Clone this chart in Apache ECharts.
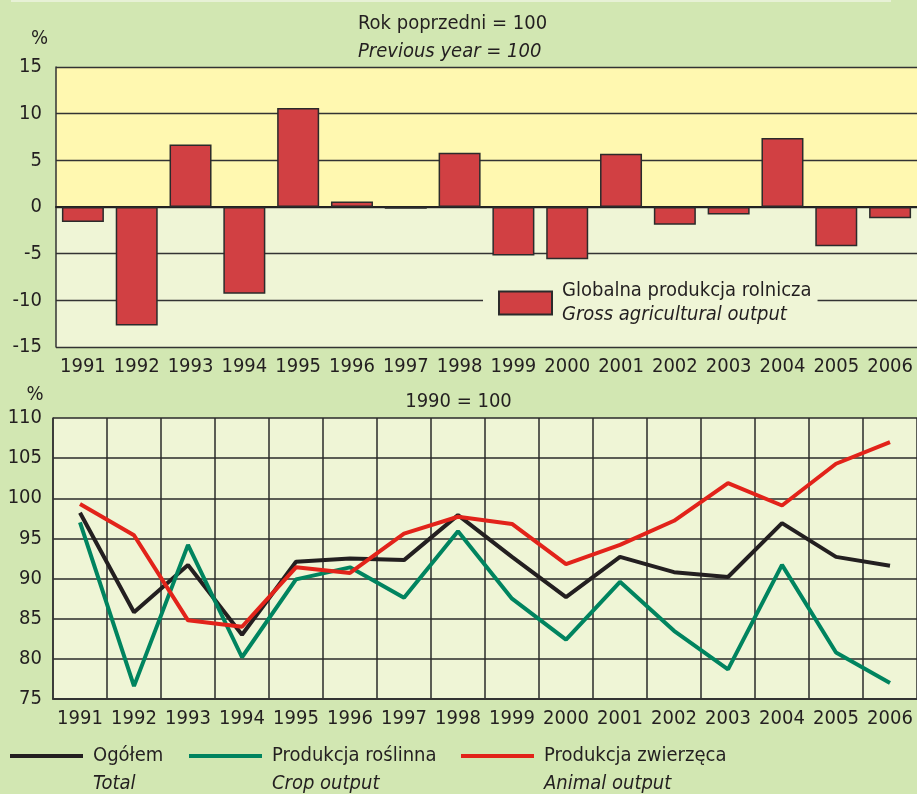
<!DOCTYPE html>
<html lang="pl">
<head>
<meta charset="UTF-8">
<title>Produkcja rolnicza</title>
<script src="https://cdn.jsdelivr.net/npm/echarts@6/dist/echarts.min.js"></script>
<style>
    html, body {margin: 0; padding: 0; background: #D2E7B2;}
    #chart {width: 917px; height: 794px;}
</style>
</head>
<body>
<div id="chart"></div>
<script>
    // dane
    var years = ['1991', '1992', '1993', '1994', '1995', '1996', '1997', '1998',
                 '1999', '2000', '2001', '2002', '2003', '2004', '2005', '2006'];
    // rok poprzedni = 100
    var grossOutput = [-1.6, -12.7, 6.7, -9.3, 10.6, 0.6, -0.2, 5.8, -5.2, -5.6, 5.7, -1.9, -0.8, 7.4, -4.2, -1.2];
    // 1990 = 100
    var totalIdx  = [98.2, 85.8, 91.7, 83.0, 92.1, 92.5, 92.3, 97.9, 92.7, 87.7, 92.7, 90.8, 90.2, 96.9, 92.7, 91.6];
    var cropIdx   = [97.0, 76.6, 94.2, 80.2, 89.9, 91.4, 87.6, 95.9, 87.5, 82.4, 89.6, 83.5, 78.7, 91.7, 80.8, 77.0];
    var animalIdx = [99.3, 95.4, 84.8, 84.0, 91.4, 90.7, 95.6, 97.7, 96.8, 91.8, 94.2, 97.2, 101.9, 99.1, 104.3, 107.0];
    var topAxis = {min: -15, max: 15, step: 5};
    var bottomAxis = {min: 75, max: 110, step: 5};

    var names = {
        gross: ['Globalna produkcja rolnicza', 'Gross agricultural output'],
        total: ['Ogółem', 'Total'],
        crop: ['Produkcja roślinna', 'Crop output'],
        animal: ['Produkcja zwierzęca', 'Animal output']
    };

    var font = "'Liberation Sans Narrow', 'Arial Narrow', 'DejaVu Sans Condensed', sans-serif";
    var fs = 20;
    var ink = '#231F20';
    var yellow = '#FFF8B0';
    var pale = '#EFF5D6';

    function legendFmt(key, pad) {
        return function () {
            return (pad ? '\n' : '') + '{a|' + names[key][0] + '}\n{b|' + names[key][1] + '}';
        };
    }
    function legendRich(lh) {
        return {
            a: {fontFamily: font, fontSize: fs, color: ink, lineHeight: lh, padding: [0, 0, 0, 5]},
            b: {fontFamily: font, fontSize: fs, color: ink, fontStyle: 'italic', lineHeight: lh, padding: [0, 0, 0, 5]}
        };
    }
    function lineLegend(key, left) {
        return {
            left: left, top: 714, padding: 0,
            icon: 'rect', itemWidth: 73, itemHeight: 4,
            data: [names[key][0]],
            formatter: legendFmt(key, true),
            textStyle: {lineHeight: 28, rich: legendRich(28)},
            selectedMode: false
        };
    }

    var myChart = echarts.init(document.getElementById('chart'));
    var option = {
        backgroundColor: '#D2E7B2',
        animation: false,
        textStyle: {fontFamily: font},
        graphic: [{
            type: 'rect', shape: {x: 11, y: 0, width: 880, height: 2},
            style: {fill: '#E7F1D6'}
        }],
        title: [{
            text: 'Rok poprzedni = 100',
            subtext: 'Previous year = 100',
            left: 358, top: 14, itemGap: 8, padding: 0,
            textStyle: {fontFamily: font, fontSize: fs, fontWeight: 'normal', color: ink},
            subtextStyle: {fontFamily: font, fontSize: fs, fontStyle: 'italic', color: ink}
        }, {
            text: '1990 = 100',
            left: 'center', top: 392, padding: 0,
            textStyle: {fontFamily: font, fontSize: fs, fontWeight: 'normal', color: ink}
        }],
        legend: [{
            left: 483, top: 276,
            padding: [5, 6, 5, 15],
            backgroundColor: pale,
            icon: 'rect', itemWidth: 53, itemHeight: 23,
            data: [names.gross[0]],
            formatter: legendFmt('gross', false),
            textStyle: {rich: legendRich(24)},
            selectedMode: false
        },
            lineLegend('total', 10),
            lineLegend('crop', 189),
            lineLegend('animal', 461)
        ],
        grid: [
            {left: 56, right: 0, top: 67, height: 280},
            {left: 53, right: 0, top: 418, height: 281, show: true, backgroundColor: pale, borderWidth: 0}
        ],
        xAxis: [{
            gridIndex: 0, type: 'category', data: years,
            axisTick: {show: false},
            axisLine: {lineStyle: {color: '#222', width: 2}},
            axisLabel: {margin: 10, fontSize: fs, color: ink, fontFamily: font, interval: 0}
        }, {
            gridIndex: 1, type: 'category', data: years,
            axisTick: {show: false},
            axisLine: {lineStyle: {color: '#333', width: 2}},
            axisLabel: {margin: 10, fontSize: fs, color: ink, fontFamily: font, interval: 0},
            splitLine: {show: true, interval: 0, lineStyle: {color: '#2A2A2A', width: 1.5}}
        }],
        yAxis: [{
            gridIndex: 0, type: 'value',
            min: topAxis.min, max: topAxis.max, interval: topAxis.step,
            name: '%', nameLocation: 'end', nameGap: 18,
            nameTextStyle: {fontSize: fs, color: ink, fontFamily: font, padding: [0, 33, 0, 0]},
            axisLine: {show: true, lineStyle: {color: '#333', width: 1.5}},
            axisTick: {show: false},
            axisLabel: {margin: 14, fontSize: fs, color: ink, fontFamily: font},
            splitLine: {lineStyle: {color: '#333', width: 1.4}},
            splitArea: {show: true, areaStyle: {color: [pale, pale, pale, yellow, yellow, yellow]}}
        }, {
            gridIndex: 1, type: 'value',
            min: bottomAxis.min, max: bottomAxis.max, interval: bottomAxis.step,
            name: '%', nameLocation: 'end', nameGap: 13,
            nameTextStyle: {fontSize: fs, color: ink, fontFamily: font, padding: [0, 36, 0, 0]},
            axisLine: {show: true, lineStyle: {color: '#333', width: 1.5}},
            axisTick: {show: false},
            axisLabel: {margin: 11, fontSize: fs, color: ink, fontFamily: font},
            splitLine: {lineStyle: {color: '#2A2A2A', width: 1.5}}
        }],
        series: [{
            name: names.gross[0], type: 'bar',
            xAxisIndex: 0, yAxisIndex: 0,
            data: grossOutput,
            barWidth: 42,
            itemStyle: {color: '#D14043', borderColor: '#2B2B2B', borderWidth: 1.5}
        }, {
            name: names.total[0], type: 'line',
            xAxisIndex: 1, yAxisIndex: 1,
            data: totalIdx, symbol: 'none',
            lineStyle: {color: '#231F20', width: 4}, itemStyle: {color: '#231F20'}
        }, {
            name: names.crop[0], type: 'line',
            xAxisIndex: 1, yAxisIndex: 1,
            data: cropIdx, symbol: 'none',
            lineStyle: {color: '#00845F', width: 4}, itemStyle: {color: '#00845F'}
        }, {
            name: names.animal[0], type: 'line',
            xAxisIndex: 1, yAxisIndex: 1,
            data: animalIdx, symbol: 'none', z: 3,
            lineStyle: {color: '#E2231A', width: 4}, itemStyle: {color: '#E2231A'}
        }]
    };
    myChart.setOption(option);
</script>
</body>
</html>
